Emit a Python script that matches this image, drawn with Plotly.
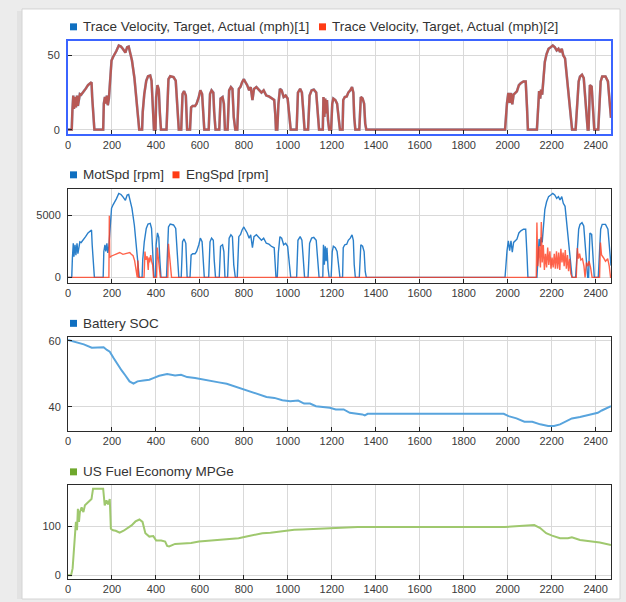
import plotly.graph_objects as go

# ---------------- data ----------------
cycle_t = [
    0, 17, 20, 24, 27, 32, 36, 41, 45, 50, 54, 60, 69, 80, 91, 100, 107, 110, 115, 120,
    160, 163, 168, 172, 177, 181, 186, 190, 193, 198, 205, 213, 220, 231, 241, 250, 261, 269, 276, 284, 291, 302, 311, 318, 324,
    337, 340, 347, 356, 364, 374, 380, 386, 391,
    398, 401, 407, 413, 418, 423,
    448, 452, 457, 465, 480, 490, 498, 504,
    515, 521, 528, 536, 542,
    555, 560, 567, 578, 585, 595, 602, 610, 616, 620,
    640, 646, 653, 661, 665, 671,
    688, 694, 703, 709, 714,
    726, 733, 741, 748, 754, 761,
    770, 777, 785, 792, 800, 807, 815, 824, 831, 839, 846, 857, 868, 880, 890, 902, 914, 925, 938, 943, 946,
    952, 957, 964, 972, 981, 990, 999, 1006, 1013,
    1040, 1046, 1056, 1064, 1070, 1076,
    1092, 1099, 1108, 1118, 1129, 1136, 1142,
    1159, 1162, 1166, 1170, 1174, 1178, 1183, 1188,
    1197, 1202, 1207, 1216, 1224, 1232, 1237,
    1249, 1252, 1259, 1268, 1275, 1284, 1292, 1298, 1302, 1307,
    1325, 1332, 1340, 1347, 1352, 1357,
    1988, 1992, 1997, 2003, 2009, 2015, 2021, 2027, 2033, 2042, 2051, 2060, 2072, 2082, 2088, 2092,
    2133, 2139, 2143, 2148, 2152, 2157, 2163, 2169, 2177, 2186, 2196, 2205, 2214, 2223, 2231, 2238, 2246, 2253, 2261, 2269, 2276, 2284, 2293,
    2309, 2317, 2323, 2329, 2338, 2346, 2353, 2359, 2364,
    2368, 2374, 2382, 2388, 2394,
    2412, 2418, 2423, 2430, 2445, 2456, 2463, 2470,
]

target_mph = [
    0, 0, 13, 23, 14, 22, 15, 23, 16, 22, 24, 23.5, 25, 27.5, 30, 31, 32, 22, 11, 0,
    0, 17.5, 22, 17.5, 23, 16.5, 21, 29, 40, 46.6, 49, 51, 53, 56.7, 56, 54.4, 52, 55.6, 56, 51, 46.6, 35, 22, 8.5, 0,
    0, 12, 24, 33, 36, 36.5, 33, 17.5, 0,
    0, 22, 30, 27, 11, 0,
    0, 20, 34, 36, 35.4, 33, 13, 0,
    0, 24, 26, 23, 0,
    0, 15, 16, 16, 17.5, 22, 26.5, 24, 8.5, 0,
    0, 24, 26.5, 25, 12, 0,
    0, 21, 22, 17.5, 0,
    0, 26.5, 28.7, 27.5, 8.5, 0,
    0, 27.5, 29, 32, 34, 32, 30, 26.5, 28.7, 20, 27.5, 28.7, 27, 25, 26.5, 23, 22.4, 21, 20, 10, 0,
    0, 17, 27.5, 26.5, 22, 23, 21, 11, 0,
    0, 25, 27.5, 25, 13, 0,
    0, 23, 26.5, 27, 25, 11, 0,
    0, 22, 8.5, 21, 11, 20, 6, 0,
    0, 17.5, 21, 20, 17.5, 8.5, 0,
    0, 20, 22, 22.4, 25, 26.5, 28.7, 25, 8.5, 0,
    0, 22, 21, 17.5, 4, 0,
    0, 12.6, 18, 24.7, 18, 24.7, 17, 23.6, 24.7, 25.8, 30, 31.4, 32.5, 32.5, 14.8, 0,
    0, 18, 26, 21, 27, 23.6, 37, 45.7, 51, 54.5, 55.6, 56.7, 55.6, 53.4, 54.5, 52.3, 54.5, 50, 48, 37, 25.8, 12.6, 0,
    0, 21, 32.5, 35.8, 37, 34.7, 21, 10, 0,
    0, 30, 29, 14.8, 0,
    0, 20, 32.5, 35.8, 35.8, 32.5, 20, 8,
]

actual_mph = [
    0, 0, 13, 23, 14, 22, 15, 23, 16, 22, 24, 23.5, 25, 27.5, 30, 31, 32, 22, 11, 0,
    0, 17.5, 22, 17.5, 23, 16.5, 21, 29, 40, 46.6, 49, 51, 53, 56.7, 56, 54.4, 52, 55.6, 56, 51, 46.6, 35, 22, 8.5, 0,
    0, 12, 24, 33, 36, 36.5, 33, 17.5, 0,
    0, 22, 30, 27, 11, 0,
    0, 20, 34, 36, 35.4, 33, 13, 0,
    0, 24, 26, 23, 0,
    0, 15, 16, 16, 17.5, 22, 26.5, 24, 8.5, 0,
    0, 24, 26.5, 25, 12, 0,
    0, 21, 22, 17.5, 0,
    0, 26.5, 28.7, 27.5, 8.5, 0,
    0, 27.5, 29, 32, 34, 32, 30, 26.5, 28.7, 20, 27.5, 28.7, 27, 25, 26.5, 23, 22.4, 21, 20, 10, 0,
    0, 17, 27.5, 26.5, 22, 23, 21, 11, 0,
    0, 25, 27.5, 25, 13, 0,
    0, 23, 26.5, 27, 25, 11, 0,
    0, 22, 8.5, 21, 11, 20, 6, 0,
    0, 17.5, 21, 20, 17.5, 8.5, 0,
    0, 20, 22, 22.4, 25, 26.5, 28.7, 25, 8.5, 0,
    0, 22, 21, 17.5, 4, 0,
    0, 12.6, 18, 24.7, 18, 24.7, 17, 23.6, 24.7, 25.8, 30, 31.4, 32.5, 32.5, 14.8, 0,
    0, 18, 26, 21, 27, 23.6, 37, 45.7, 51, 54.5, 55.6, 56.7, 55.6, 53.4, 54.5, 52.3, 54.5, 50, 48, 37, 25.8, 12.6, 0,
    0, 21, 32.5, 35.8, 37, 34.7, 21, 10, 0,
    0, 30, 29, 14.8, 0,
    0, 20, 32.5, 35.8, 35.8, 32.5, 20, 8,
]

mot_spd_rpm = [
    0, 0, 1550, 2740, 1670, 2620, 1790, 2740, 1900, 2620, 2860, 2800, 2980, 3270, 3570, 3690, 3810, 2620, 1310, 0,
    0, 2080, 2620, 2080, 2740, 1960, 2500, 3450, 4760, 5550, 5830, 6070, 6310, 6750, 6660, 6470, 6190, 6620, 6660, 6070, 5550, 4170, 2620, 1010, 0,
    0, 1430, 2860, 3930, 4280, 4340, 3930, 2080, 0,
    0, 2620, 3570, 3210, 1310, 0,
    0, 2380, 4050, 4280, 4210, 3930, 1550, 0,
    0, 2860, 3090, 2740, 0,
    0, 1790, 1900, 1900, 2080, 2620, 3150, 2860, 1010, 0,
    0, 2860, 3150, 2980, 1430, 0,
    0, 2500, 2620, 2080, 0,
    0, 3150, 3420, 3270, 1010, 0,
    0, 3270, 3450, 3810, 4050, 3810, 3570, 3150, 3420, 2380, 3270, 3420, 3210, 2980, 3150, 2740, 2670, 2500, 2380, 1190, 0,
    0, 2020, 3270, 3150, 2620, 2740, 2500, 1310, 0,
    0, 2980, 3270, 2980, 1550, 0,
    0, 2740, 3150, 3210, 2980, 1310, 0,
    0, 2620, 1010, 2500, 1310, 2380, 710, 0,
    0, 2080, 2500, 2380, 2080, 1010, 0,
    0, 2380, 2620, 2670, 2980, 3150, 3420, 2980, 1010, 0,
    0, 2620, 2500, 2080, 480, 0,
    0, 1500, 2140, 2940, 2140, 2940, 2020, 2810, 2940, 3070, 3570, 3740, 3870, 3870, 1760, 0,
    0, 2140, 3090, 2500, 3210, 2810, 4400, 5440, 6070, 6490, 6620, 6750, 6620, 6350, 6490, 6220, 6490, 5950, 5710, 4400, 3070, 1500, 0,
    0, 2500, 3870, 4260, 4400, 4130, 2500, 1190, 0,
    0, 3570, 3450, 1760, 0,
    0, 2380, 3870, 4260, 4260, 3870, 2380, 950,
]

eng_t = [
    0, 186, 188, 190, 196, 204, 219, 235, 250, 265, 281, 288, 296, 303, 311, 315, 318, 321,
    346, 350, 354, 360, 365, 368, 371, 376, 380, 385, 389,
    403, 406, 411, 415, 420,
    454, 457, 461, 466, 471,
    2130, 2133, 2137, 2143, 2149, 2153, 2157, 2162, 2167, 2172, 2177, 2182, 2187, 2192, 2197, 2202,
    2207, 2212, 2217, 2222, 2227, 2232, 2237, 2242, 2247, 2252, 2257, 2262, 2267, 2272, 2277, 2282, 2287, 2293,
    2312, 2317, 2322, 2327, 2333, 2340, 2347, 2352, 2358, 2365, 2370, 2377, 2384,
    2418, 2422, 2427, 2435, 2445, 2455, 2462, 2468, 2470,
]
eng_spd_rpm = [
    0, 0, 4950, 1600, 1700, 1770, 1920, 2000, 1850, 1920, 2000, 1850, 1740, 1350, 330, 0, 1350, 0,
    0, 2070, 1420, 1690, 600, 1600, 1200, 1800, 1300, 1000, 0,
    0, 2400, 1600, 700, 0,
    0, 2700, 1900, 600, 0,
    0, 4400, 900, 2500, 800, 4450, 1200, 2600, 600, 1900, 800, 2400, 1000, 2100, 700, 1600,
    800, 1900, 700, 2100, 700, 2000, 600, 2300, 1200, 2000, 900, 2200, 700, 1800, 500, 1500, 300, 0,
    0, 2350, 1500, 1900, 1400, 1500, 900, 0, 1200, 900, 1300, 800, 0,
    0, 2800, 1800, 1600, 1300, 1500, 900, 0, 0,
]

soc_t = [0, 36, 72, 108, 126, 162, 177, 190, 208, 226, 244, 262, 280, 298, 316, 343, 370, 388, 415, 451,
         487, 514, 542, 578, 614, 650, 686, 722, 758, 794, 830, 866, 903, 939, 975, 1011, 1047, 1074, 1101,
         1128, 1155, 1191, 1218, 1254, 1282, 1318, 1339, 1350, 1363, 1982, 2004, 2040, 2076, 2112, 2148,
         2184, 2211, 2238, 2265, 2292, 2329, 2356, 2383, 2410, 2428, 2470]
battery_soc = [60.2, 59.5, 58.9, 57.9, 58, 58, 57.2, 56.7, 54.7, 52.7, 51, 49.4, 47.7, 47, 47.7, 48, 48.2, 48.7, 49.4, 49.9,
               49.5, 49.7, 49, 48.7, 48.2, 47.7, 47.4, 47, 46.2, 45.2, 44.4, 43.7, 43, 42.7, 42, 41.7, 41.9, 41, 41,
               40.2, 40, 39.7, 39.2, 39.2, 38.2, 37.9, 37.7, 37.4, 37.9, 37.9, 37.2, 36.5, 35.5, 35.5, 34.7,
               34.2, 34.2, 34.7, 35.7, 36.5, 36.9, 37.4, 37.9, 38.2, 38.9, 40.2]

mpge_t = [0, 14, 21, 27, 32, 36, 41, 45, 50, 54, 62, 70, 77, 92, 107, 114, 160, 167, 175, 182, 190, 195,
          205, 217, 235, 253, 271, 289, 307, 325, 339, 352, 370, 388, 401, 424, 442, 451, 460, 487, 523,
          560, 596, 632, 668, 704, 740, 776, 812, 848, 884, 921, 957, 993, 1029, 1065, 1101, 1137, 1173,
          1209, 1245, 1282, 1318, 1986, 2022, 2058, 2103, 2121, 2148, 2175, 2202, 2238, 2274, 2292, 2329,
          2365, 2392, 2419, 2470]
fuel_economy_mpge = [0, 0, 14, 61, 95, 109, 92, 136, 109, 129, 139, 129, 143, 150, 156, 177, 177, 143, 153, 145, 156, 95,
                     92, 91, 87, 91, 96, 102, 110, 114, 109, 86, 79, 80, 71, 71, 69, 60, 59, 64, 65,
                     66, 69, 70, 71, 72, 74, 75.5, 79, 82.5, 86, 87, 89.5, 91.6, 93, 93.7, 94.4, 95, 96.5,
                     96.5, 97.2, 98, 98.6, 98.6, 100, 101.4, 102.8, 102.5, 96.5, 86, 81, 75.5, 75.5, 77.6, 72,
                     70, 70, 67, 62]

x_ticks = [0, 200, 400, 600, 800, 1000, 1200, 1400, 1600, 1800, 2000, 2200, 2400]
y_ticks = [[0, 50], [0, 5000], [40, 60], [0, 100]]
y_ranges = [[-3, 59.6], [-420, 7080], [32.8, 61.2], [-8, 185]]
x_range = [0, 2470]

legend_items = [
    [("Trace Velocity, Target, Actual (mph)[1]", "#0f6fc0"), ("Trace Velocity, Target, Actual (mph)[2]", "#ff3b14")],
    [("MotSpd [rpm]", "#0f6fc0"), ("EngSpd [rpm]", "#ff3b14")],
    [("Battery SOC", "#0f6fc0")],
    [("US Fuel Economy MPGe", "#6fa82c")],
]

# ---------------- layout geometry (pixels) ----------------
W, H = 626, 602
ML, MR = 68, 15
PW = W - ML - MR
box_px = [(39.5, 133.0), (188.5, 282.5), (337.0, 431.5), (486.0, 581.0)]
legend_y_px = [25, 174, 323.5, 473]
legend_x_px = [[70, 319], [70, 172.5], [70], [70]]


def px_x(px):
    return (px - ML) / PW


def px_y(py):
    return 1 - py / H


FONT = "Liberation Sans, Arial, sans-serif"

fig = go.Figure()

# plot 1
fig.add_trace(go.Scatter(x=cycle_t, y=target_mph, mode="lines", xaxis="x", yaxis="y",
                         line=dict(color="#7fbbe6", width=2.6), showlegend=False,
                         name="Trace Velocity, Target, Actual (mph)[1]"))
fig.add_trace(go.Scatter(x=cycle_t, y=actual_mph, mode="lines", xaxis="x", yaxis="y",
                         line=dict(color="rgba(200,62,44,0.78)", width=2.4), showlegend=False,
                         name="Trace Velocity, Target, Actual (mph)[2]"))
# plot 2
fig.add_trace(go.Scatter(x=cycle_t, y=mot_spd_rpm, mode="lines", xaxis="x2", yaxis="y2",
                         line=dict(color="#2a7fca", width=1.4), showlegend=False, name="MotSpd [rpm]"))
fig.add_trace(go.Scatter(x=eng_t, y=eng_spd_rpm, mode="lines", xaxis="x2", yaxis="y2",
                         line=dict(color="rgba(255,60,30,0.8)", width=1.4), showlegend=False, name="EngSpd [rpm]"))
# plot 3
fig.add_trace(go.Scatter(x=soc_t, y=battery_soc, mode="lines", xaxis="x3", yaxis="y3",
                         line=dict(color="#58a4dd", width=2), showlegend=False, name="Battery SOC"))
# plot 4
fig.add_trace(go.Scatter(x=mpge_t, y=fuel_economy_mpge, mode="lines", xaxis="x4", yaxis="y4",
                         line=dict(color="#9fc86e", width=2), showlegend=False, name="US Fuel Economy MPGe"))

layout = dict(
    width=W, height=H, autosize=False,
    margin=dict(l=ML, r=MR, t=0, b=0, pad=0),
    paper_bgcolor="#ececec", plot_bgcolor="#ffffff",
    font=dict(family=FONT, size=11, color="#333333"),
    showlegend=False,
)

for i in range(4):
    sfx = "" if i == 0 else str(i + 1)
    top, bot = box_px[i]
    lc = "#3b64ff" if i == 0 else "#2b2b2b"
    lw = 2 if i == 0 else 1
    layout["xaxis" + sfx] = dict(
        domain=[0, 1], anchor="y" + sfx, range=x_range, tickvals=x_ticks,
        showgrid=True, gridcolor="#d9d9d9", gridwidth=1, zeroline=False,
        showline=True, mirror=True, linecolor=lc, linewidth=lw,
        ticks="inside", ticklen=4, tickcolor="#222222",
        tickfont=dict(family=FONT, size=11, color="#3a3a3a"),
    )
    layout["yaxis" + sfx] = dict(
        domain=[px_y(bot), px_y(top)], anchor="x" + sfx, range=y_ranges[i], tickvals=y_ticks[i],
        showgrid=True, gridcolor="#d9d9d9", gridwidth=1, zeroline=False,
        showline=True, mirror=True, linecolor=lc, linewidth=lw,
        ticks="inside", ticklen=4, tickcolor="#222222",
        tickfont=dict(family=FONT, size=11, color="#3a3a3a"),
        ticklabelstandoff=4,
    )

shapes = [
    dict(type="rect", xref="paper", yref="paper", layer="below",
         x0=px_x(17), x1=px_x(22), y0=px_y(601), y1=px_y(9),
         fillcolor="#e2e2e2", line=dict(width=0)),
    dict(type="rect", xref="paper", yref="paper", layer="below",
         x0=px_x(22), x1=px_x(620), y0=px_y(601), y1=px_y(7),
         fillcolor="#ffffff", line=dict(color="#d4d4d4", width=1)),
]
annotations = []
for i, items in enumerate(legend_items):
    cy = legend_y_px[i]
    for (label, color), sx in zip(items, legend_x_px[i]):
        shapes.append(dict(type="rect", xref="paper", yref="paper", layer="above",
                           x0=px_x(sx), x1=px_x(sx + 7), y0=px_y(cy + 3.5), y1=px_y(cy - 3.5),
                           fillcolor=color, line=dict(width=0)))
        annotations.append(dict(xref="paper", yref="paper", x=px_x(sx + 11), y=px_y(cy),
                                xanchor="left", yanchor="middle", showarrow=False, text=label,
                                font=dict(family=FONT, size=13.5, color="#333333")))

layout["shapes"] = shapes
layout["annotations"] = annotations
fig.update_layout(**layout)

fig.write_html(
    "out.html",
    config={"displayModeBar": False},
    post_script="document.body.style.margin='0';document.body.style.background='#ececec';",
)
